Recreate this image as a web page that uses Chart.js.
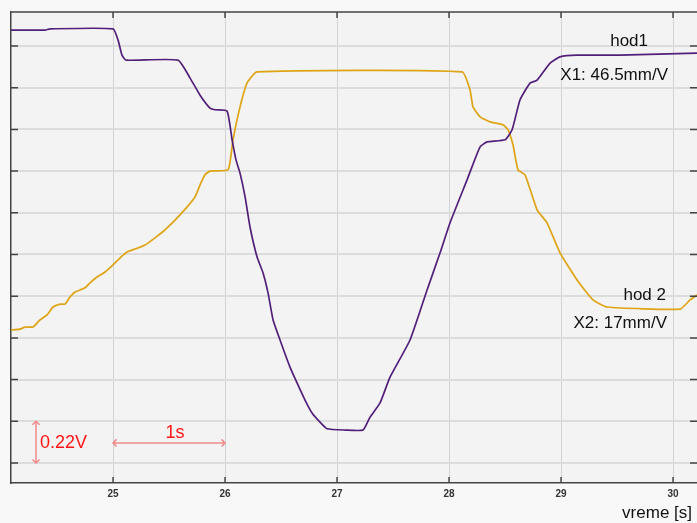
<!DOCTYPE html>
<html>
<head>
<meta charset="utf-8">
<script src="https://cdn.jsdelivr.net/npm/chart.js@4/dist/chart.umd.min.js"></script>
<style>
  html, body { margin: 0; padding: 0; background: #f8f8f8; }
</style>
</head>
<body>
<canvas id="myChart" width="697" height="523"></canvas>
<script>
// Two position traces
// time in s, amplitude in grid divisions (1 div = 0.22 V)
// ////////////

const hod1Time = [24.089, 24.393, 24.438, 25.000, 25.045, 25.080, 25.116, 25.580, 25.688, 25.777,
  25.866, 25.911, 26.018, 26.063, 26.098, 26.134, 26.179, 26.223, 26.286, 26.339,
  26.384, 26.429, 26.491, 26.580, 26.643, 26.714, 26.777, 26.848, 26.911, 27.071,
  27.232, 27.295, 27.384, 27.473, 27.652, 27.804, 27.920, 28.009, 28.161, 28.277,
  28.339, 28.500, 28.563, 28.634, 28.723, 28.786, 28.902, 28.991, 29.143, 29.527, 30.214];
const hod1Div = [10.38, 10.38, 10.41, 10.41, 10.14, 9.78, 9.66, 9.66, 9.23, 8.82,
  8.51, 8.47, 8.44, 7.75, 7.27, 6.95, 6.38, 5.66, 4.94, 4.56,
  4.08, 3.43, 2.95, 2.30, 1.92, 1.51, 1.20, 0.98, 0.82, 0.79,
  0.79, 1.10, 1.44, 2.06, 2.95, 4.15, 5.04, 5.76, 6.79, 7.58,
  7.70, 7.75, 7.99, 8.71, 9.11, 9.18, 9.59, 9.74, 9.78, 9.78, 9.83];

const hod2Time = [24.089, 24.170, 24.214, 24.286, 24.348, 24.411, 24.464, 24.527, 24.571, 24.616,
  24.661, 24.750, 24.795, 24.857, 24.929, 25.000, 25.063, 25.125, 25.196, 25.286,
  25.375, 25.464, 25.598, 25.732, 25.777, 25.821, 25.866, 26.027, 26.071, 26.134,
  26.196, 26.286, 28.116, 28.188, 28.214, 28.277, 28.366, 28.482, 28.527, 28.571,
  28.616, 28.679, 28.786, 28.875, 28.991, 29.143, 29.286, 29.411, 30.063, 30.152, 30.214];
const hod2Div = [3.19, 3.21, 3.26, 3.26, 3.43, 3.55, 3.74, 3.81, 3.81, 3.98,
  4.10, 4.20, 4.32, 4.46, 4.58, 4.75, 4.92, 5.06, 5.13, 5.23,
  5.40, 5.59, 5.95, 6.38, 6.67, 6.91, 7.00, 7.03, 7.75, 8.54,
  9.11, 9.38, 9.38, 8.94, 8.54, 8.30, 8.18, 8.11, 7.99, 7.63,
  7.03, 6.91, 6.07, 5.76, 5.04, 4.39, 3.91, 3.74, 3.69, 3.91, 4.03];

// tick positions
const secondTicks = [25, 26, 27, 28, 29, 30];
const divTicks = [0, 1, 2, 3, 4, 5, 6, 7, 8, 9, 10];

// axis window
const timeMin = 24.089;
const timeMax = 30.214;
const divMin = -0.48;
const divMax = 10.815;

// build {x, y} pairs for the line datasets
const hod1Points = hod1Time.map((t, i) => ({x: t, y: hod1Div[i]}));
const hod2Points = hod2Time.map((t, i) => ({x: t, y: hod2Div[i]}));

const textFont = "'Liberation Sans', Arial, sans-serif";

function drawArrow(ctx, x1, y1, x2, y2) {
  const head = 5;
  const ang = Math.atan2(y2 - y1, x2 - x1);
  ctx.beginPath();
  ctx.moveTo(x1, y1);
  ctx.lineTo(x2, y2);
  [[x1, y1, ang], [x2, y2, ang + Math.PI]].forEach(([x, y, a]) => {
    ctx.moveTo(x + head * Math.cos(a + 0.8), y + head * Math.sin(a + 0.8));
    ctx.lineTo(x, y);
    ctx.lineTo(x + head * Math.cos(a - 0.8), y + head * Math.sin(a - 0.8));
  });
  ctx.stroke();
}

// background, inward ticks, frame, notes
const scopeFrame = {
  id: 'scopeFrame',
  beforeDraw(chart) {
    const {ctx, chartArea: a} = chart;
    ctx.save();
    ctx.fillStyle = '#f8f8f8';
    ctx.fillRect(0, 0, chart.width, chart.height);
    ctx.fillStyle = '#f3f3f3';
    ctx.fillRect(a.left, a.top, a.right - a.left, a.bottom - a.top);
    ctx.restore();
  },
  afterDraw(chart) {
    const {ctx, chartArea: a, scales} = chart;
    const xs = scales.x, ys = scales.y;
    ctx.save();
    ctx.strokeStyle = '#444';
    ctx.lineWidth = 1.5;
    // top border
    ctx.beginPath();
    ctx.moveTo(a.left, a.top);
    ctx.lineTo(a.right, a.top);
    ctx.stroke();
    // inward tick marks
    ctx.beginPath();
    xs.ticks.forEach(t => {
      const px = xs.getPixelForValue(t.value);
      ctx.moveTo(px, a.bottom); ctx.lineTo(px, a.bottom - 6);
      ctx.moveTo(px, a.top); ctx.lineTo(px, a.top + 6);
    });
    ys.ticks.forEach(t => {
      const py = ys.getPixelForValue(t.value);
      ctx.moveTo(a.left, py); ctx.lineTo(a.left + 7, py);
      ctx.moveTo(a.right, py); ctx.lineTo(a.right - 7, py);
    });
    ctx.stroke();

    // scale notes in red
    ctx.strokeStyle = '#f08a8a';
    ctx.lineWidth = 1.5;
    drawArrow(ctx, xs.getPixelForValue(24.3125), ys.getPixelForValue(1),
      xs.getPixelForValue(24.3125), ys.getPixelForValue(0));
    drawArrow(ctx, xs.getPixelForValue(25), ys.getPixelForValue(0.48),
      xs.getPixelForValue(26), ys.getPixelForValue(0.48));
    ctx.fillStyle = '#ff1414';
    ctx.font = '18px ' + textFont;
    ctx.textBaseline = 'middle';
    ctx.textAlign = 'left';
    ctx.fillText('0.22V', 40, 443);
    ctx.textAlign = 'center';
    ctx.fillText('1s', 175, 433);

    // trace labels
    ctx.fillStyle = '#111';
    ctx.font = '17px ' + textFont;
    ctx.textAlign = 'right';
    ctx.fillText('hod1', 648, 41);
    ctx.fillText('X1: 46.5mm/V', 668, 75);
    ctx.fillText('hod 2', 666, 295);
    ctx.fillText('X2: 17mm/V', 667, 323);
    ctx.fillText('vreme [s]', 692, 513);
    ctx.restore();
  }
};

const ctx = document.getElementById('myChart');

new Chart(ctx, {
  type: 'line',
  data: {
    datasets: [{
      label: 'hod1',
      data: hod1Points,
      borderColor: '#52207a',
      borderWidth: 1.7,
      pointRadius: 0,
      tension: 0.15
    }, {
      label: 'hod 2',
      data: hod2Points,
      borderColor: '#dea413',
      borderWidth: 1.7,
      pointRadius: 0,
      tension: 0.15
    }]
  },
  options: {
    responsive: false,
    animation: false,
    layout: { padding: { top: 12, left: 0, right: 0, bottom: 0 } },
    plugins: {
      legend: { display: false },
      tooltip: { enabled: false }
    },
    scales: {
      x: {
        type: 'linear',
        min: timeMin,
        max: timeMax,
        afterBuildTicks(scale) { scale.ticks = secondTicks.map(v => ({value: v})); },
        ticks: {
          padding: 5,
          maxRotation: 0,
          autoSkip: false,
          color: '#333',
          font: { family: textFont, size: 10, weight: 'bold' }
        },
        grid: { color: '#d2d2d2', lineWidth: 1, drawTicks: false },
        border: { color: '#444', width: 1.5 },
        afterFit(scale) { scale.height = 40; }
      },
      y: {
        min: divMin,
        max: divMax,
        afterBuildTicks(scale) { scale.ticks = divTicks.map(v => ({value: v})); },
        ticks: { display: false },
        grid: { color: '#dcdcdc', lineWidth: 2, drawTicks: false },
        border: { color: '#444', width: 1.5 },
        afterFit(scale) { scale.width = 11; }
      }
    }
  },
  plugins: [scopeFrame]
});
</script>
</body>
</html>
